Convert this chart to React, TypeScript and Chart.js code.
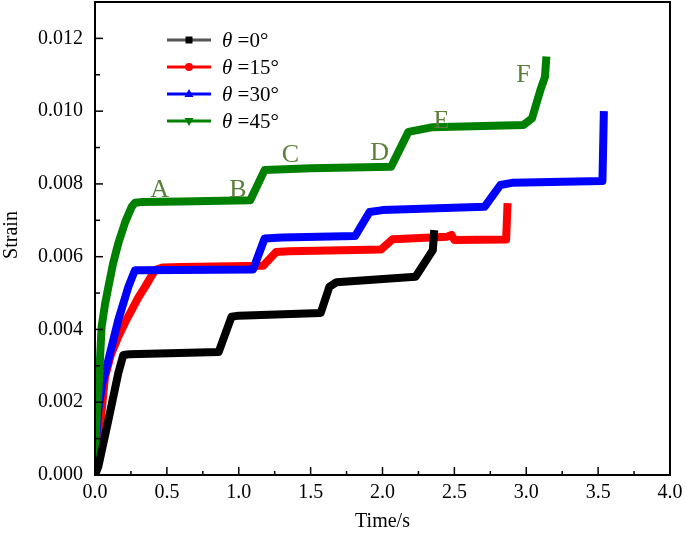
import React, { useEffect, useRef } from "react";
import { Chart, registerables } from "chart.js";

Chart.register(...registerables);

const seriesNames = ["0°", "15°", "30°", "45°"];
const seriesColors = ["#000000", "#FF0000", "#0000FF", "#008000"];
const legendLineColors = ["#555555", "#FF0000", "#0000FF", "#008000"];
const markerStyles = ["rect", "circle", "triangle", "triangleDown"];

const blackX = [0, 0.023, 0.093, 0.162, 0.197, 0.24, 0.86, 0.95, 1.0, 1.57, 1.63, 1.68, 2.23, 2.35, 2.36];
const blackY = [0, 0.00023, 0.00151, 0.0028, 0.0033, 0.00332, 0.00338, 0.00435, 0.00438, 0.00445, 0.00517, 0.0053, 0.00545, 0.00618, 0.00673];

const redX = [0, 0.035, 0.07, 0.11, 0.162, 0.21, 0.255, 0.3, 0.348, 0.417, 0.47, 0.6, 1.17, 1.26, 1.35, 1.99, 2.07, 2.3, 2.45, 2.48, 2.5, 2.86, 2.87];
const redY = [0, 0.00133, 0.0027, 0.0033, 0.0038, 0.0042, 0.00453, 0.00487, 0.00517, 0.00563, 0.0057, 0.00572, 0.00575, 0.00613, 0.00615, 0.0062, 0.00648, 0.00652, 0.00655, 0.0066, 0.00646, 0.00647, 0.00747];

const blueX = [0, 0.012, 0.023, 0.05, 0.093, 0.162, 0.232, 0.278, 0.32, 1.1, 1.18, 1.3, 1.81, 1.91, 2.0, 2.71, 2.82, 2.9, 3.53, 3.54];
const blueY = [0, 0.0012, 0.00179, 0.0025, 0.00316, 0.00426, 0.00517, 0.00563, 0.00563, 0.00565, 0.0065, 0.00653, 0.00657, 0.00723, 0.00728, 0.00737, 0.00797, 0.00803, 0.00808, 0.0100];

const greenX = [0, 0.008, 0.015, 0.023, 0.046, 0.07, 0.093, 0.125, 0.162, 0.21, 0.255, 0.278, 0.32, 0.6, 1.08, 1.18, 1.5, 2.06, 2.18, 2.35, 2.98, 3.04, 3.07, 3.1, 3.13, 3.14];
const greenY = [0, 0.0013, 0.0019, 0.00225, 0.00407, 0.0047, 0.00517, 0.0058, 0.00637, 0.00695, 0.00737, 0.00748, 0.0075, 0.00752, 0.00755, 0.00838, 0.00843, 0.00847, 0.00943, 0.00956, 0.00962, 0.0098, 0.0102, 0.0106, 0.01094, 0.0115];

const pointLabels = ["A", "B", "C", "D", "E", "F"];
const pointLabelX = [0.45, 0.995, 1.36, 1.98, 2.41, 2.98];
const pointLabelY = [0.00783, 0.00783, 0.0088, 0.00885, 0.00973, 0.011];

const xTickValues = [0, 0.5, 1, 1.5, 2, 2.5, 3, 3.5, 4];
const yTickValues = [0, 0.002, 0.004, 0.006, 0.008, 0.01, 0.012];

const FONT = "'Liberation Serif', 'Times New Roman', serif";

function pts(xs: number[], ys: number[]) {
  return xs.map((x, i) => ({ x, y: ys[i] }));
}

const decorPlugin = {
  id: "decor",
  afterDraw(chart: any) {
    const { ctx, chartArea } = chart;
    const xs = chart.scales.x;
    const ys = chart.scales.y;
    const { left, right, top, bottom } = chartArea;
    ctx.save();
    // frame
    ctx.strokeStyle = "#000";
    ctx.lineWidth = 2;
    ctx.strokeRect(left, top, right - left, bottom - top);
    // x ticks
    ctx.lineWidth = 1.5;
    for (let i = 0; i <= 16; i++) {
      const v = i * 0.25;
      const px = xs.getPixelForValue(v);
      const len = i % 2 === 0 ? 8 : 4;
      ctx.beginPath();
      ctx.moveTo(px, bottom);
      ctx.lineTo(px, bottom - len);
      ctx.stroke();
    }
    for (let i = 0; i <= 13; i++) {
      const v = i * 0.001;
      const py = ys.getPixelForValue(v);
      const len = i % 2 === 0 ? 8 : 5;
      ctx.beginPath();
      ctx.moveTo(left, py);
      ctx.lineTo(left + len, py);
      ctx.stroke();
    }
    // tick labels
    ctx.fillStyle = "#000";
    ctx.font = `20px ${FONT}`;
    ctx.textAlign = "center";
    ctx.textBaseline = "top";
    for (const v of xTickValues) {
      ctx.fillText(v.toFixed(1), xs.getPixelForValue(v), bottom + 8);
    }
    ctx.textAlign = "right";
    ctx.textBaseline = "middle";
    for (const v of yTickValues) {
      ctx.fillText(v.toFixed(3), left - 12, ys.getPixelForValue(v));
    }
    // axis titles
    ctx.textAlign = "center";
    ctx.fillText("Time/s", (left + right) / 2, 522);
    ctx.save();
    ctx.translate(12, 235);
    ctx.rotate(-Math.PI / 2);
    ctx.fillText("Strain", 0, 0);
    ctx.restore();
    // point labels
    ctx.fillStyle = "#5B7F3A";
    ctx.font = `26px ${FONT}`;
    for (let i = 0; i < pointLabels.length; i++) {
      ctx.fillText(pointLabels[i], xs.getPixelForValue(pointLabelX[i]), ys.getPixelForValue(pointLabelY[i]));
    }
    // legend
    const rowY = [40, 67, 94, 121];
    for (let i = 0; i < seriesNames.length; i++) {
      const y = rowY[i];
      ctx.strokeStyle = legendLineColors[i];
      ctx.lineWidth = 3;
      ctx.beginPath();
      ctx.moveTo(167, y);
      ctx.lineTo(211, y);
      ctx.stroke();
      ctx.fillStyle = seriesColors[i];
      const cx = 189;
      ctx.beginPath();
      if (markerStyles[i] === "rect") {
        ctx.rect(cx - 3.5, y - 3.5, 7, 7);
      } else if (markerStyles[i] === "circle") {
        ctx.arc(cx, y, 4, 0, Math.PI * 2);
      } else if (markerStyles[i] === "triangle") {
        ctx.moveTo(cx, y - 5);
        ctx.lineTo(cx + 4.5, y + 3);
        ctx.lineTo(cx - 4.5, y + 3);
        ctx.closePath();
      } else {
        ctx.moveTo(cx, y + 5);
        ctx.lineTo(cx + 4.5, y - 3);
        ctx.lineTo(cx - 4.5, y - 3);
        ctx.closePath();
      }
      ctx.fill();
      ctx.fillStyle = "#000";
      ctx.textAlign = "left";
      ctx.font = `italic 21px ${FONT}`;
      ctx.fillText("θ", 222, y + 1);
      const w = ctx.measureText("θ ").width;
      ctx.font = `21px ${FONT}`;
      ctx.fillText("=" + seriesNames[i], 222 + w, y + 1);
    }
    ctx.restore();
  },
};

export default function App() {
  const ref = useRef<HTMLCanvasElement | null>(null);
  useEffect(() => {
    document.body.style.margin = "0";
    const canvas = ref.current!;
    const data = [pts(blackX, blackY), pts(redX, redY), pts(blueX, blueY), pts(greenX, greenY)];
    const orders = [0, 3, 2, 1];
    const chart = new Chart(canvas, {
      type: "line",
      data: {
        datasets: data.map((d, i) => ({
          label: "θ =" + seriesNames[i],
          data: d,
          borderColor: seriesColors[i],
          backgroundColor: seriesColors[i],
          borderWidth: 8,
          borderJoinStyle: "round" as const,
          borderCapStyle: "butt" as const,
          pointRadius: 0,
          tension: 0,
          order: orders[i],
        })),
      },
      plugins: [decorPlugin],
      options: {
        responsive: false,
        animation: false,
        layout: { padding: { top: 2, right: 15, left: 0, bottom: 0 } },
        plugins: { legend: { display: false }, tooltip: { enabled: false } },
        scales: {
          x: {
            type: "linear",
            min: 0,
            max: 4,
            afterFit: (s: any) => {
              s.height = 64;
            },
            grid: { display: false, drawTicks: false },
            border: { display: false },
            ticks: { display: false },
          },
          y: {
            type: "linear",
            min: 0,
            max: 0.013,
            afterFit: (s: any) => {
              s.width = 95;
            },
            grid: { display: false, drawTicks: false },
            border: { display: false },
            ticks: { display: false },
          },
        },
      },
    });
    return () => chart.destroy();
  }, []);
  return (
    <div style={{ position: "fixed", left: 0, top: 0, width: 685, height: 539, background: "#fff" }}>
      <canvas ref={ref} width={685} height={539} style={{ width: 685, height: 539, display: "block" }} />
    </div>
  );
}
